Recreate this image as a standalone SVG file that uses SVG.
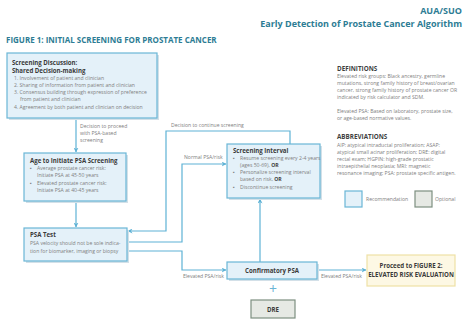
<svg xmlns="http://www.w3.org/2000/svg" width="474" height="323" viewBox="0 0 474 323">
<defs>
<style>
.bg{fill:#ffffff}
.box{fill:#e4f1f9;stroke:#6ab6d6;stroke-width:1.2}
.opt{fill:#e6e9e4;stroke:#7d8f80;stroke-width:1.2}
.prc{fill:#fdf8e4;stroke:#efe1a6;stroke-width:1.2}
.sh{fill:#d3e0e8}
.ln{fill:none;stroke:#5eb2d5;stroke-width:1.2}
text{font-family:"Open Sans","Liberation Sans",sans-serif}
.hd{fill:#2d7c94;font-weight:700}
.tt{fill:#3a3a3a;font-weight:700;font-size:6.1px}
.bd{fill:#808080;font-size:5.1px}
.lb{fill:#808080;font-size:5.1px}
.dt{fill:#3f3f3f;font-weight:700;font-size:6.3px}
.dx{fill:#808080;font-size:5.1px}
</style>
<marker id="ar" viewBox="0 0 10 10" refX="9" refY="5" markerWidth="5" markerHeight="5" orient="auto" markerUnits="userSpaceOnUse">
<path d="M0,0 L10,5 L0,10 L3,5 z" fill="#5eb2d5"/>
</marker>
</defs>
<rect class="bg" x="0" y="0" width="474" height="323"/>

<g id="header">
<text class="hd" x="462" y="14" font-size="9" text-anchor="end">AUA/SUO</text>
<text class="hd" x="462" y="27" font-size="9" text-anchor="end">Early Detection of Prostate Cancer Algorithm</text>
<text class="hd" x="6" y="43" font-size="8">FIGURE 1: INITIAL SCREENING FOR PROSTATE CANCER</text>
</g>

<g id="connectors">
<line class="ln" x1="76" y1="119" x2="76" y2="152" marker-end="url(#ar)"/>
<line class="ln" x1="76" y1="202" x2="76" y2="227" marker-end="url(#ar)"/>
<polyline class="ln" points="290,144 290,131 166,131 166,231 128,231" marker-end="url(#ar)"/>
<polyline class="ln" points="127,242 182,242 182,164 226,164" marker-end="url(#ar)"/>
<polyline class="ln" points="127,251 182,251 182,270 226,270" marker-end="url(#ar)"/>
<line class="ln" x1="260" y1="262" x2="260" y2="199" marker-end="url(#ar)"/>
<line class="ln" x1="318" y1="270" x2="366" y2="270" marker-end="url(#ar)"/>
<text class="lb" x="80" y="128">Decision to proceed</text>
<text class="lb" x="80" y="135">with PSA-based</text>
<text class="lb" x="80" y="142">screening</text>
<text class="lb" x="171" y="127">Decision to continue screening</text>
<text class="lb" x="184" y="159">Normal PSA/risk</text>
<text class="lb" x="183" y="278">Elevated PSA/risk</text>
<text class="lb" x="321" y="278">Elevated PSA/risk</text>
</g>

<g id="screening-discussion">
<rect class="sh" x="9" y="55" width="150" height="65"/>
<rect class="box" x="7" y="53" width="150" height="65"/>
<text class="tt" x="12" y="65">Screening Discussion:</text>
<text class="tt" x="12" y="73">Shared Decision-making</text>
<text class="bd" x="14" y="80">1.  Involvement of patient and clinician</text>
<text class="bd" x="14" y="87">2.  Sharing of information from patient and clinician</text>
<text class="bd" x="14" y="94">3.  Consensus building through expression of preference</text>
<text class="bd" x="20" y="101">from patient and clinician</text>
<text class="bd" x="14" y="109">4.  Agreement by both patient and clinician on decision</text>
</g>

<g id="age-to-initiate">
<rect class="sh" x="26" y="155" width="102" height="48"/>
<rect class="box" x="24" y="153" width="102" height="48"/>
<text class="tt" x="30" y="163">Age to Initiate PSA Screening</text>
<text class="bd" x="30" y="170">▪</text>
<text class="bd" x="37" y="170">Average prostate cancer risk:</text>
<text class="bd" x="37" y="177">Initiate PSA at 45-50 years</text>
<text class="bd" x="30" y="185">▪</text>
<text class="bd" x="37" y="185">Elevated prostate cancer risk:</text>
<text class="bd" x="37" y="192">Initiate PSA at 40-45 years</text>
</g>

<g id="psa-test">
<rect class="sh" x="26" y="230" width="103" height="33"/>
<rect class="box" x="24" y="228" width="103" height="33"/>
<text class="tt" x="30" y="237">PSA Test</text>
<text class="bd" x="30" y="245">PSA velocity should not be sole indica-</text>
<text class="bd" x="30" y="253">tion for biomarker, imaging or biopsy</text>
</g>

<g id="screening-interval">
<rect class="sh" x="229" y="146" width="93" height="54"/>
<rect class="box" x="227" y="144" width="93" height="54"/>
<text class="tt" x="233" y="153" font-size="5.8">Screening Interval</text>
<text class="bd" x="233" y="160">▪</text>
<text class="bd" x="240" y="160" font-size="4.9">Resume screening every 2-4 years</text>
<text class="bd" x="240" y="167">(ages 50-69), <tspan font-weight="700" fill="#3a3a3a">OR</tspan></text>
<text class="bd" x="233" y="174">▪</text>
<text class="bd" x="240" y="174">Personalize screening interval</text>
<text class="bd" x="240" y="181">based on risk, <tspan font-weight="700" fill="#3a3a3a">OR</tspan></text>
<text class="bd" x="233" y="189">▪</text>
<text class="bd" x="240" y="189">Discontinue screening</text>
</g>

<g id="confirmatory-psa">
<rect class="sh" x="229" y="264" width="90" height="17"/>
<rect class="box" x="227" y="262" width="90" height="17"/>
<text class="tt" x="272" y="273" text-anchor="middle">Confirmatory PSA</text>
</g>

<g id="plus">
<text x="273" y="294" font-size="14" fill="#6ab6d6" text-anchor="middle" font-family="Liberation Sans,sans-serif">+</text>
</g>

<g id="dre">
<rect class="opt" x="251" y="300" width="44" height="18"/>
<text class="tt" x="273" y="311.5" text-anchor="middle" font-size="5.4">DRE</text>
</g>

<g id="proceed">
<rect class="prc" x="367" y="255" width="88" height="31"/>
<text class="tt" x="411" y="268" text-anchor="middle" font-size="5.8">Proceed to FIGURE 2:</text>
<text class="tt" x="411" y="277" text-anchor="middle" font-size="5.8">ELEVATED RISK EVALUATION</text>
</g>

<g id="definitions">
<text class="dt" x="337" y="71">DEFINITIONS</text>
<text class="dx" x="337" y="78">Elevated risk groups: Black ancestry, germline</text>
<text class="dx" x="337" y="85">mutations, strong family history of breast/ovarian</text>
<text class="dx" x="337" y="92">cancer, strong family history of prostate cancer OR</text>
<text class="dx" x="337" y="99">indicated by risk calculator and SDM.</text>
<text class="dx" x="337" y="113">Elevated PSA: Based on laboratory, prostate size,</text>
<text class="dx" x="337" y="120">or age-based normative values.</text>
<text class="dt" x="337" y="139">ABBREVIATIONS</text>
<text class="dx" x="337" y="147">AIP: atypical intraductal proliferation; ASAP:</text>
<text class="dx" x="337" y="154">atypical small acinar proliferation; DRE: digital</text>
<text class="dx" x="337" y="161">rectal exam; HGPIN: high-grade prostatic</text>
<text class="dx" x="337" y="168">intraepithelial neoplasia; MRI: magnetic</text>
<text class="dx" x="337" y="175">resonance imaging; PSA: prostate specific antigen.</text>
</g>

<g id="legend">
<rect class="box" x="345" y="191" width="17" height="16"/>
<text class="dx" x="366" y="201">Recommendation</text>
<rect class="opt" x="415" y="191" width="17" height="16"/>
<text class="dx" x="435" y="201">Optional</text>
</g>
</svg>
